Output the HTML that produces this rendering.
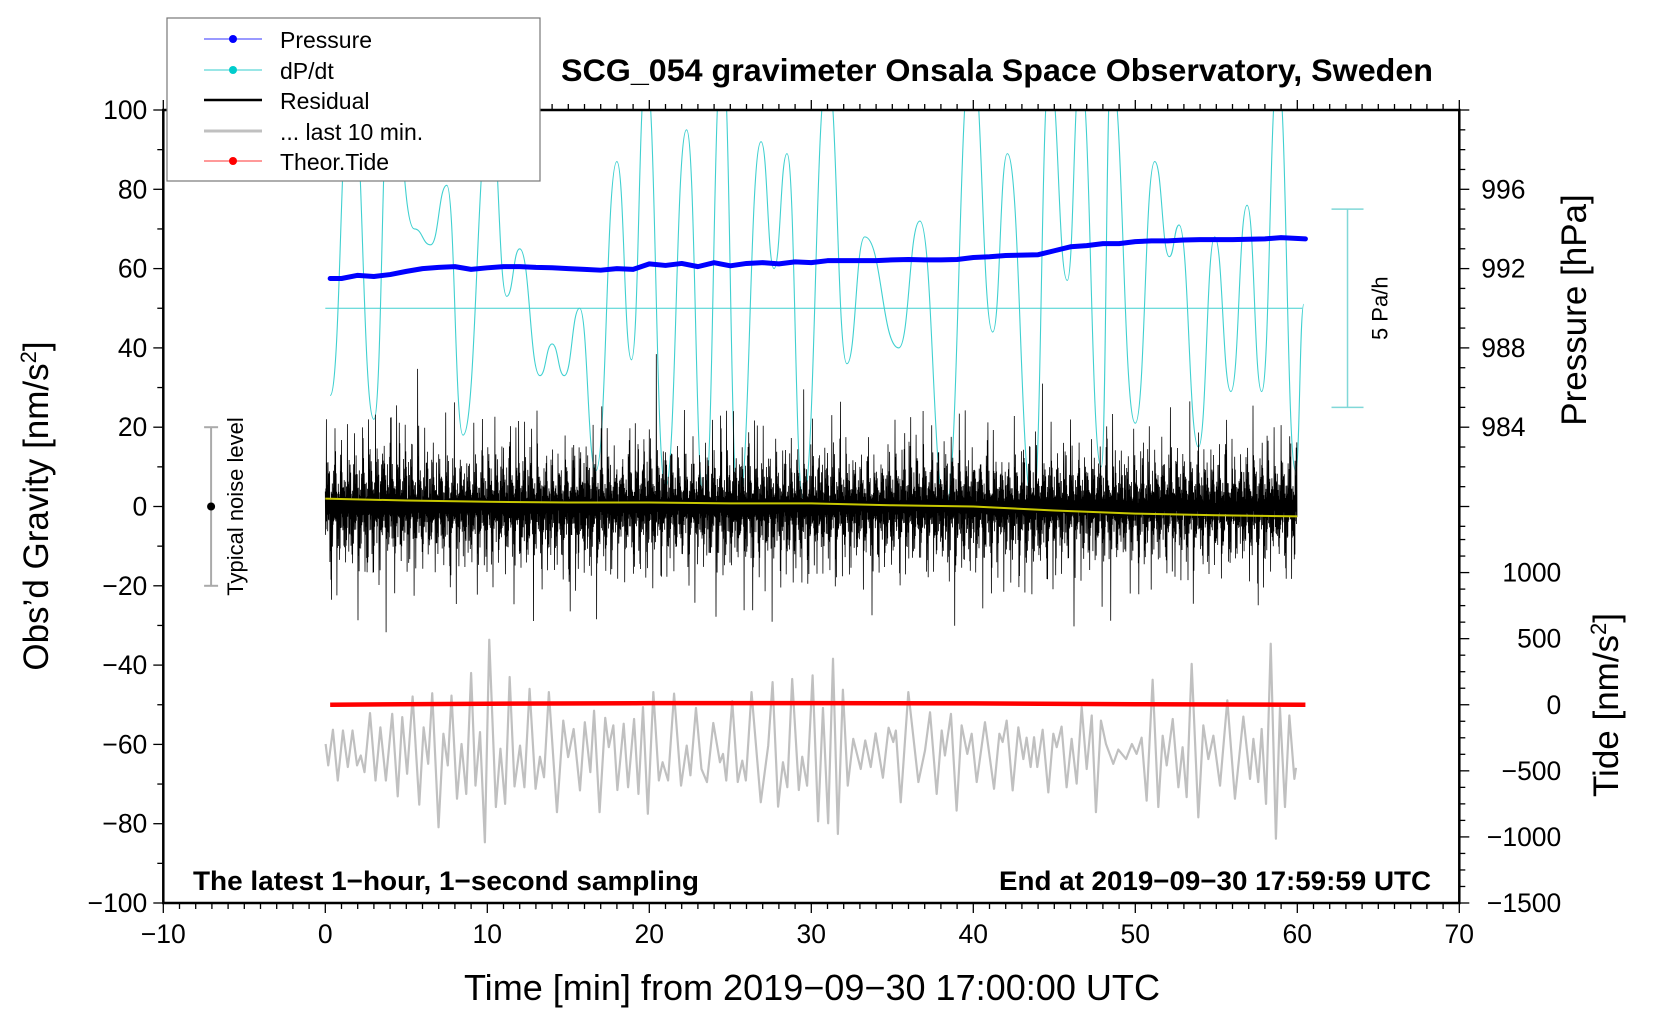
<!DOCTYPE html>
<html><head><meta charset="utf-8">
<style>
html,body{margin:0;padding:0;background:#fff;}
svg{display:block;font-family:"Liberation Sans",Arial,sans-serif;}
</style></head>
<body>
<svg id="chart" width="1660" height="1020" viewBox="0 0 1660 1020" xmlns="http://www.w3.org/2000/svg">
<rect width="1660" height="1020" fill="#fff"/>
<g id="plot"></g>
<text x="997" y="81" text-anchor="middle" font-size="31.5" font-weight="bold" textLength="872" lengthAdjust="spacingAndGlyphs">SCG_054 gravimeter Onsala Space Observatory, Sweden</text>
<text x="812" y="1000" text-anchor="middle" font-size="36" textLength="696" lengthAdjust="spacingAndGlyphs">Time [min] from 2019−09−30 17:00:00 UTC</text>
<text transform="translate(48,506) rotate(-90)" text-anchor="middle" font-size="35">Obs’d Gravity [nm/s<tspan baseline-shift="super" font-size="22">2</tspan>]</text>
<text transform="translate(1586,310) rotate(-90)" text-anchor="middle" font-size="35">Pressure [hPa]</text>
<text transform="translate(1618,705) rotate(-90)" text-anchor="middle" font-size="35">Tide [nm/s<tspan baseline-shift="super" font-size="22">2</tspan>]</text>
<text x="193" y="890" font-size="27" font-weight="bold" textLength="506" lengthAdjust="spacingAndGlyphs">The latest 1−hour, 1−second sampling</text>
<text x="1431" y="890" text-anchor="end" font-size="27" font-weight="bold" textLength="432" lengthAdjust="spacingAndGlyphs">End at 2019−09−30 17:59:59 UTC</text>
<g>
<rect x="167" y="18" width="373" height="163" fill="#fff" stroke="#777" stroke-width="1.2"/>
<g><line x1="204" y1="39" x2="262" y2="39" stroke="#33f" stroke-width="1"/><circle cx="233" cy="39" r="4" fill="#00f"/><text x="280" y="48" font-size="23">Pressure</text></g>
<g><line x1="204" y1="70" x2="262" y2="70" stroke="#3cc" stroke-width="1"/><circle cx="233" cy="70" r="4" fill="#0cc"/><text x="280" y="79" font-size="23">dP/dt</text></g>
<g><line x1="204" y1="100" x2="262" y2="100" stroke="#000" stroke-width="2.5"/><text x="280" y="109" font-size="23">Residual</text></g>
<g><line x1="204" y1="131" x2="262" y2="131" stroke="#c0c0c0" stroke-width="3"/><text x="280" y="140" font-size="23">... last 10 min.</text></g>
<g><line x1="204" y1="161" x2="262" y2="161" stroke="#f33" stroke-width="1"/><circle cx="233" cy="161" r="4" fill="#f00"/><text x="280" y="170" font-size="23">Theor.Tide</text></g>
</g>
</svg>
<script>
// ---- data ----
const dpTimes=[0.3,1.6,3.0,4.0,5.5,6.5,7.5,8.5,10.2,11.2,12.0,13.25,14.0,14.75,15.7,16.7,18.0,18.9,19.8,21.0,22.3,23.4,24.5,25.5,26.9,27.7,28.5,29.5,31.0,32.2,33.3,35.4,36.7,38.3,39.9,41.2,42.1,43.7,44.7,45.8,46.6,47.9,48.5,50.0,51.2,52.1,52.7,53.9,54.9,55.9,56.9,57.8,58.8,59.9,60.4];
const dpValues=[28,110,22,110,70,66,81,18,100,53,65,33,41,33,50,9,87,37,110,5,95,0,115,0,92,60,89,2,110,36,68,40,72,0,115,44,89,0,110,57,110,10,110,21,87,63,71,15,68,29,76,29,110,9,51];
const presTimes=[0.3,1,2,3,4,5,6,7,8,9,10,11,12,13,14,15,16,17,18,19,20,21,22,23,24,25,26,27,28,29,30,31,32,33,34,35,36,37,38,39,40,41,42,43,44,45,46,47,48,49,50,51,52,53,54,55,56,57,58,59,60.5];
const presHpa=[991.5,991.5,991.66,991.6,991.7,991.86,992,992.06,992.1,991.96,992.04,992.1,992.1,992.06,992.04,992,991.96,991.92,992,991.96,992.24,992.16,992.26,992.1,992.3,992.14,992.26,992.3,992.24,992.34,992.3,992.4,992.4,992.4,992.4,992.44,992.46,992.44,992.44,992.46,992.56,992.6,992.66,992.68,992.7,992.9,993.1,993.16,993.26,993.26,993.36,993.4,993.4,993.44,993.46,993.46,993.46,993.48,993.5,993.56,993.5];
const tideTimes=[0.3,10,20,30,40,50,60.5];
const tideValues=[0,8,12,12,10,4,0];
const resTimes=[0,2,4,6,8,10,12,14,16,18,20,22,24,26,28,30,32,34,36,38,40,42,44,46,48,50,52,54,56,58,60];
const resTop=[20,22,30,22,20,22,25,18,24,20,26,20,22,24,20,22,22,18,24,22,22,18,22,20,22,18,24,20,20,22,22];
const resBot=[-22,-24,-22,-20,-22,-20,-24,-22,-26,-20,-22,-20,-22,-24,-22,-24,-20,-22,-20,-22,-24,-22,-26,-20,-22,-22,-20,-22,-20,-22,-20];
const smTimes=[0,5,10,15,20,25,30,35,40,45,50,55,60];
const smValues=[2,1.5,1.2,1,1,0.8,0.8,0.3,0,-1,-1.8,-2.2,-2.5];
const grayT=[0.02,0.18,0.47,0.77,1.09,1.39,1.68,1.96,2.19,2.42,2.76,3.10,3.40,3.74,4.13,4.47,4.75,5.05,5.39,5.80,6.07,6.35,6.60,6.99,7.29,7.56,7.79,8.13,8.41,8.70,9.00,9.27,9.55,9.85,10.12,10.53,10.81,11.10,11.38,11.68,12.02,12.29,12.61,12.98,13.25,13.50,13.80,14.30,14.69,14.99,15.33,15.72,16.02,16.36,16.59,16.93,17.28,17.50,17.78,18.03,18.42,18.69,19.06,19.33,19.61,19.91,20.25,20.59,20.82,21.16,21.53,21.96,22.31,22.54,22.88,23.22,23.56,23.95,24.36,24.55,24.75,25.12,25.46,25.74,25.96,26.31,26.88,27.34,27.61,27.95,28.25,28.52,28.82,29.23,29.44,29.74,30.08,30.42,30.72,31.04,31.34,31.64,31.95,32.25,32.59,33.05,33.33,33.67,33.97,34.42,34.77,35.06,35.22,35.52,35.99,36.61,37.02,37.33,37.74,38.05,38.25,38.62,38.97,39.28,39.63,39.90,40.21,40.72,41.28,41.61,41.81,42.06,42.43,42.78,43.09,43.29,43.54,43.75,43.95,44.28,44.63,44.94,45.15,45.45,45.76,46.07,46.38,46.69,47.00,47.31,47.57,47.88,48.19,48.64,48.95,49.43,49.79,50.08,50.39,50.70,51.07,51.42,51.69,51.94,52.31,52.66,52.92,53.17,53.48,53.89,54.20,54.51,54.82,55.23,55.68,56.15,56.67,57.08,57.29,57.59,57.80,58.07,58.36,58.68,58.93,59.24,59.51,59.82,59.92];
const grayV=[-59.9,-65.3,-56.3,-69.1,-56.5,-65.7,-56.5,-65.3,-62.8,-67.0,-52.1,-69.1,-55.7,-69.1,-52.3,-73.1,-53.1,-67.4,-47.9,-75.2,-55.7,-64.9,-47.1,-80.9,-57.3,-65.3,-47.7,-73.7,-59.9,-72.5,-42.0,-70.4,-56.9,-84.7,-33.6,-75.8,-61.1,-75.0,-43.0,-70.6,-60.3,-70.8,-46.0,-71.2,-63.1,-68.3,-46.8,-77.1,-54.0,-63.2,-56.1,-71.6,-54.4,-67.0,-51.5,-77.1,-53.3,-60.7,-55.2,-71.5,-54.8,-70.8,-53.6,-72.5,-50.6,-77.5,-46.8,-69.1,-64.5,-69.1,-47.2,-70.4,-60.3,-67.8,-50.8,-66.2,-69.5,-54.6,-64.5,-62.4,-69.1,-49.1,-69.5,-64.1,-69.1,-46.8,-74.6,-60.3,-44.3,-75.7,-64.5,-70.8,-43.5,-71.5,-63.1,-70.4,-42.6,-79.4,-50.8,-79.9,-38.4,-82.6,-46.2,-70.4,-58.6,-66.2,-59.0,-65.7,-57.2,-68.4,-55.8,-59.4,-56.5,-74.6,-46.8,-69.5,-61.5,-51.9,-72.5,-56.5,-62.8,-52.3,-76.7,-55.2,-62.4,-57.3,-69.5,-54.4,-71.2,-57.3,-59.4,-54.0,-71.6,-55.7,-63.7,-58.3,-65.7,-58.2,-65.7,-56.3,-72.1,-57.3,-60.7,-55.5,-70.8,-58.6,-69.9,-50.6,-66.2,-52.7,-77.1,-54.0,-59.9,-64.9,-61.3,-63.7,-59.9,-62.4,-58.3,-74.2,-43.7,-75.8,-57.8,-65.3,-53.6,-70.8,-60.7,-73.3,-39.7,-78.4,-55.2,-63.7,-57.8,-70.4,-48.9,-73.7,-53.0,-68.7,-58.6,-69.5,-56.1,-75.0,-34.6,-83.8,-50.8,-75.8,-52.7,-68.7,-65.9];
const xTicks=[-10,0,10,20,30,40,50,60,70];
const yTicks=[-100,-80,-60,-40,-20,0,20,40,60,80,100];
const pTicks=[984,988,992,996];
const tTicks=[-1500,-1000,-500,0,500,1000];

// ---- scales ----
const X0=163.3,X1=1459.3,Y0=903,Y1=110;
const sx=t=>X0+(t+10)/80*(X1-X0);
const sy=g=>Y0-(g+100)/200*(Y0-Y1);
const presToG=p=>80+(p-996)*5;
const tideToG=v=>-50+v/30;
const NS='http://www.w3.org/2000/svg';
const plot=document.getElementById('plot');
function mk(tag,attrs,parent){const e=document.createElementNS(NS,tag);for(const k in attrs)e.setAttribute(k,attrs[k]);(parent||plot).appendChild(e);return e;}

const defs=mk('defs',{});
const cp=mk('clipPath',{id:'clip'},defs);
mk('rect',{x:X0,y:Y1,width:X1-X0,height:Y0-Y1},cp);
const data=mk('g',{'clip-path':'url(#clip)'});

const base=mk('line',{x1:sx(0),x2:sx(60.3),y1:sy(50),y2:sy(50),stroke:'#40d0d0','stroke-width':1},data);


let d='M'+sx(dpTimes[0])+','+sy(dpValues[0]);
for(let i=1;i<dpTimes.length;i++){
  const xa=sx(dpTimes[i-1]),xb=sx(dpTimes[i]),ya=sy(dpValues[i-1]),yb=sy(dpValues[i]);
  const h=(xb-xa)/2;
  d+=' C'+(xa+h)+','+ya+' '+(xb-h)+','+yb+' '+xb+','+yb;
}
const dp=mk('path',{d:d,fill:'none',stroke:'#40d0d0','stroke-width':1.1},data);



function interp(ts,vs,t){if(t<=ts[0])return vs[0];for(let i=1;i<ts.length;i++){if(t<=ts[i]){const f=(t-ts[i-1])/(ts[i]-ts[i-1]);return vs[i-1]+f*(vs[i]-vs[i-1]);}}return vs[vs.length-1];}
// irregular display weights (styling of the dense trace)
const wA=[0.3,0.55,0.2,0.4,0.95,0.25,0.5,0.15,0.65,0.35,0.8,0.2,0.45];
const wB=[0.6,1.0,0.7,0.45,0.85,0.55,1.2,0.5,0.75,0.65,0.9,0.4,1.1,0.6,0.8,0.5,0.7];
const wC=[1,0.8,1.3,0.9,1.1,0.7,1,1.25,0.85,1.05,0.95];
let rd='';const N=3600;
for(let i=0;i<N;i++){
  const t=i/60;
  const w=wA[i%13]*wB[(i*3)%17]*wC[(i*7)%11]*1.05;
  const v=(i%2===0)?interp(resTimes,resTop,t)*w:interp(resTimes,resBot,t)*w;
  rd+=(i?'L':'M')+sx(t).toFixed(1)+','+sy(v).toFixed(1);
}
const res=mk('path',{d:rd,fill:'none',stroke:'#000','stroke-width':0.8},data);



const sm=mk('polyline',{points:smTimes.map((t,i)=>sx(t)+','+sy(smValues[i])).join(' '),fill:'none',stroke:'#c8c800','stroke-width':2},data);



const pr=mk('polyline',{points:presTimes.map((t,i)=>sx(t)+','+sy(presToG(presHpa[i]))).join(' '),fill:'none',stroke:'#0000ff','stroke-width':5,'stroke-linejoin':'round','stroke-linecap':'round'},data);



const gr=mk('polyline',{points:grayT.map((t,i)=>sx(t)+','+sy(grayV[i])).join(' '),fill:'none',stroke:'#c0c0c0','stroke-width':2.2,'stroke-linejoin':'round'},data);



const td=mk('polyline',{points:tideTimes.map((t,i)=>sx(t)+','+sy(tideToG(tideValues[i]))).join(' '),fill:'none',stroke:'#ff0000','stroke-width':4.5},data);



const sbx=sx(63.1);
const sb=mk('g',{stroke:'#80d8d8','stroke-width':1.5});


mk('line',{x1:sbx,x2:sbx,y1:sy(75),y2:sy(25)},sb);
mk('line',{x1:sbx-16,x2:sbx+16,y1:sy(75),y2:sy(75)},sb);
mk('line',{x1:sbx-16,x2:sbx+16,y1:sy(25),y2:sy(25)},sb);
const sbl=mk('text',{transform:'translate('+(sbx+40)+','+sy(50)+') rotate(-90)','text-anchor':'middle','font-size':22});
sbl.textContent='5 Pa/h';



const nbx=sx(-7.05);
const nb=mk('g',{stroke:'#aaa','stroke-width':2});


mk('line',{x1:nbx,x2:nbx,y1:sy(20),y2:sy(-20)},nb);
mk('line',{x1:nbx-7,x2:nbx+7,y1:sy(20),y2:sy(20)},nb);
mk('line',{x1:nbx-7,x2:nbx+7,y1:sy(-20),y2:sy(-20)},nb);
mk('circle',{cx:nbx,cy:sy(0),r:4,fill:'#000',stroke:'none'});
const nbl=mk('text',{transform:'translate('+(nbx+32)+','+sy(0)+') rotate(-90)','text-anchor':'middle','font-size':22});
nbl.textContent='Typical noise level';



const fr=mk('rect',{x:X0,y:Y1,width:X1-X0,height:Y0-Y1,fill:'none',stroke:'#000','stroke-width':2.5});



const ax=mk('g',{stroke:'#000','stroke-width':1.3});


for(let t=-10;t<=70;t++){const L=(t%10===0)?10:6;mk('line',{x1:sx(t),x2:sx(t),y1:Y0,y2:Y0+L},ax);mk('line',{x1:sx(t),x2:sx(t),y1:Y1,y2:Y1-L},ax);}
for(let g=-100;g<=100;g+=10){const L=(g%20===0)?10:6;mk('line',{x1:X0,x2:X0-L,y1:sy(g),y2:sy(g)},ax);}
for(let p=979;p<=1000;p++){const L=(p%4===0)?10:6;mk('line',{x1:X1,x2:X1+L,y1:sy(presToG(p)),y2:sy(presToG(p))},ax);}
for(let v=-1500;v<=1250;v+=125){const L=(v%500===0)?10:6;mk('line',{x1:X1,x2:X1+L,y1:sy(tideToG(v)),y2:sy(tideToG(v))},ax);}

function lbl(txt,x,y,anchor,name){const e=mk('text',{x:x,y:y,'text-anchor':anchor,'font-size':26.5});e.textContent=txt;}
const fmt=v=>String(v).replace('-','−');
xTicks.forEach(t=>lbl(fmt(t),sx(t),Y0+40,'middle','x-tick-label'));
yTicks.forEach(g=>lbl(fmt(g),X0-16,sy(g)+9,'end','y-tick-label'));
pTicks.forEach(p=>lbl(String(p),X1+22,sy(presToG(p))+9,'start','pressure-tick-label'));
tTicks.forEach(v=>lbl(fmt(v),X1+102,sy(tideToG(v))+9,'end','tide-tick-label'));
</script>
</body></html>
